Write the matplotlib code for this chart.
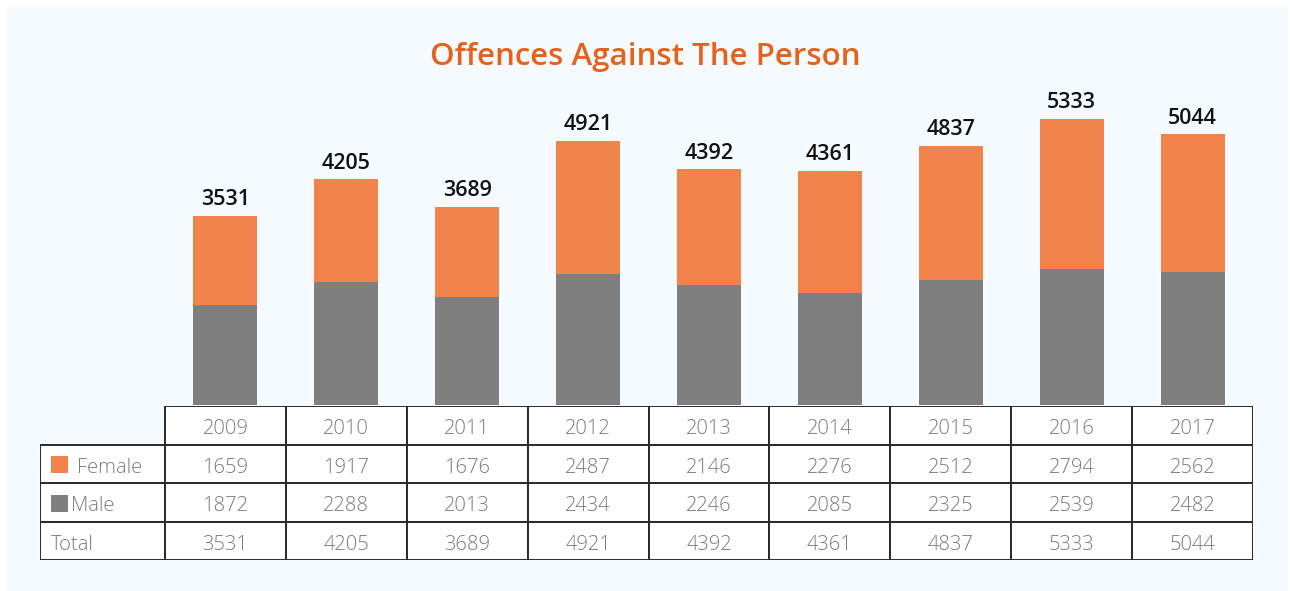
import numpy as np
import matplotlib.pyplot as plt
from matplotlib.patches import Rectangle

years = ['2009', '2010', '2011', '2012', '2013', '2014', '2015', '2016', '2017']
female = [1659, 1917, 1676, 2487, 2146, 2276, 2512, 2794, 2562]
male = [1872, 2288, 2013, 2434, 2246, 2085, 2325, 2539, 2482]
total = [3531, 4205, 3689, 4921, 4392, 4361, 4837, 5333, 5044]

c_female = '#F2834A'
c_male = '#7F7F7F'
c_title = '#E8611A'
c_panel = '#F5FAFE'
c_text = '#7A7A7A'
c_line = '#2A2A2A'
fam = ['Open Sans', 'DejaVu Sans']

W, H = 1290, 591
fig = plt.figure(figsize=(W / 100, H / 100), dpi=100)
fig.patch.set_facecolor('white')
fig.patches.append(Rectangle((7 / W, 0), 1 - 9 / W, 1 - 7 / H, transform=fig.transFigure,
                             facecolor=c_panel, edgecolor='none', zorder=-10))

def fx(px):
    return px / W

def fy(py):
    return 1 - py / H

# bar axes: columns run from x=165 to 1253, baseline at y=405
top_px = 80
ax = fig.add_axes([fx(165), fy(405), fx(1253 - 165), (405 - top_px) / H])
ax.set_facecolor('none')
x = np.arange(len(years))
ax.bar(x, male, width=0.53, color=c_male)
ax.bar(x, female, width=0.53, bottom=male, color=c_female)
for xi, t in zip(x, total):
    ax.text(xi, t + 110, str(t), ha='center', va='bottom', fontsize=15.5,
            fontweight='semibold', color='#111111', family=fam)
ax.set_xlim(-0.5, len(years) - 0.5)
ax.set_ylim(0, max(total) * (405 - top_px) / (405 - 119))
ax.axis('off')

fig.text(0.5, fy(57), 'Offences Against The Person', ha='center', va='center',
         fontsize=22.5, fontweight='semibold', color=c_title, family=fam)

# table axes
lab_w = (165 - 40) / ((1253 - 165) / 9)
tx = fig.add_axes([fx(40), fy(560), fx(1253 - 40), (560 - 406) / H])
tx.set_xlim(-0.5 - lab_w, len(years) - 0.5)
tx.set_ylim(4, 0)
tx.axis('off')

rows = [('Female', female, c_female), ('Male', male, c_male), ('Total', total, None)]
fnt = dict(fontsize=14.5, color=c_text, family=fam, fontweight='light')
lw = 1.4

# header row
for i, yr in enumerate(years):
    tx.add_patch(Rectangle((i - 0.5, 0), 1, 1, facecolor='white', edgecolor=c_line, lw=lw))
    tx.text(i, 0.6, yr, ha='center', va='center', **fnt)

for r, (name, vals, col) in enumerate(rows, start=1):
    tx.add_patch(Rectangle((-0.5 - lab_w, r), lab_w, 1, facecolor='white',
                           edgecolor=c_line, lw=lw))
    if col is not None:
        tx.add_patch(Rectangle((-0.5 - lab_w + 0.09, r + 0.3), 0.14, 0.45,
                               facecolor=col, edgecolor='none'))
        tx.text(-0.5 - lab_w + 0.26 + (0.05 if name == 'Female' else 0), r + 0.61,
                name, ha='left', va='center', **fnt)
    else:
        tx.text(-0.5 - lab_w + 0.09, r + 0.61, name, ha='left', va='center', **fnt)
    for i, v in enumerate(vals):
        tx.add_patch(Rectangle((i - 0.5, r), 1, 1, facecolor='white', edgecolor=c_line, lw=lw))
        tx.text(i, r + 0.61, str(v), ha='center', va='center', **fnt)

fig.savefig('out.png', dpi=100, facecolor=fig.get_facecolor())
